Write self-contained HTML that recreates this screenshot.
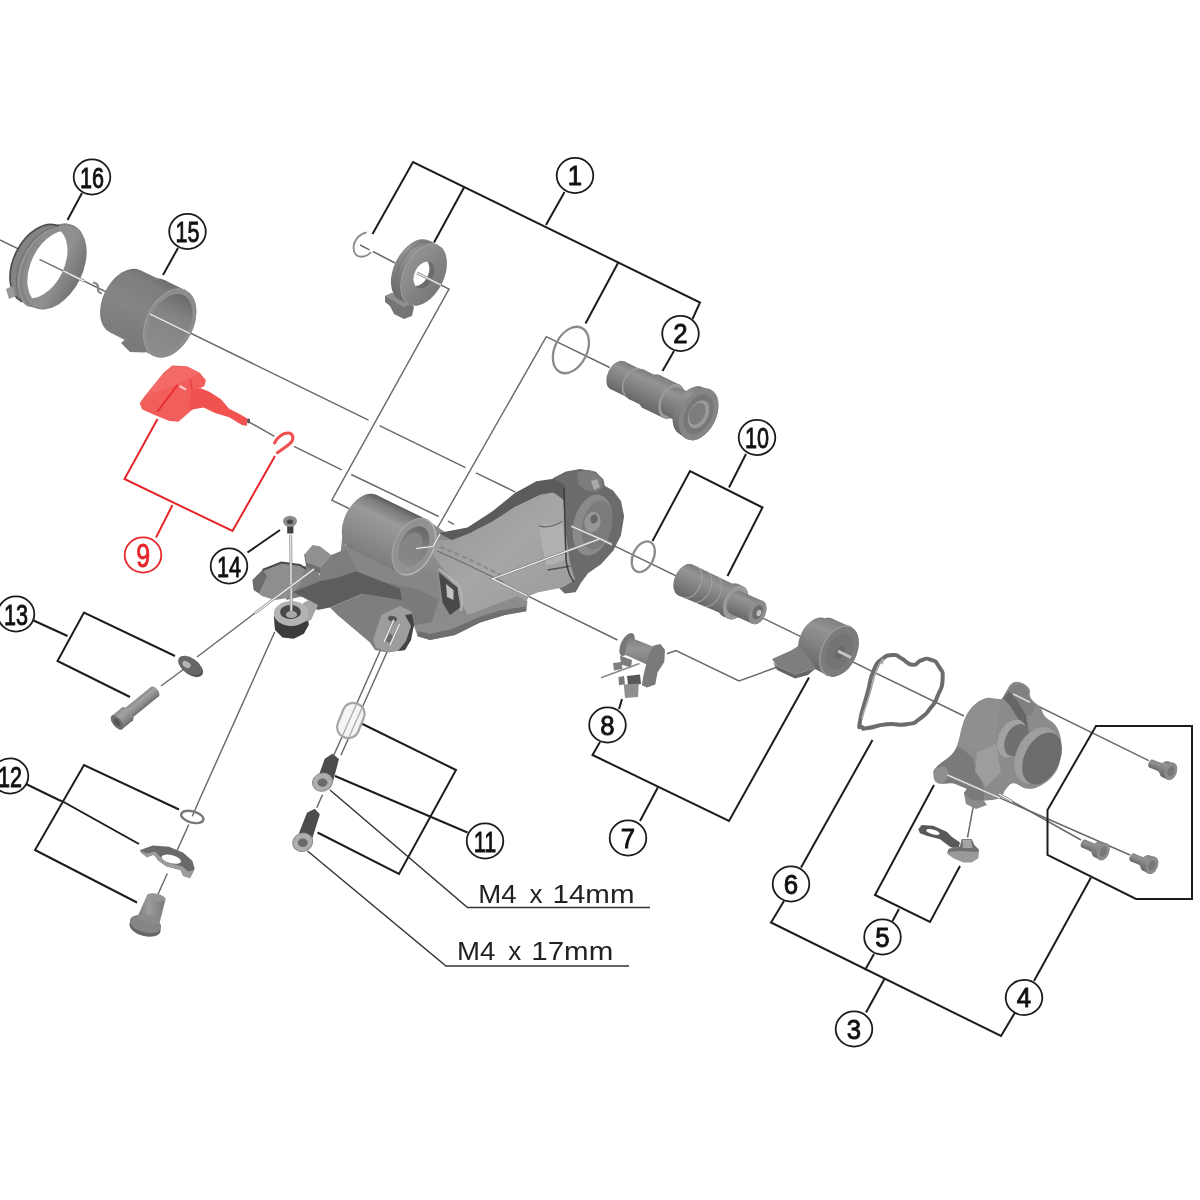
<!DOCTYPE html>
<html lang="en">
<head>
<meta charset="utf-8">
<title>Exploded view</title>
<style>
html,body{margin:0;padding:0;background:#fff;}
body{width:1200px;height:1200px;overflow:hidden;}
svg{display:block;filter:blur(0.55px);}
.k{stroke:#1c1c1c;stroke-width:2;fill:none;stroke-linecap:butt;stroke-linejoin:miter;}
.g{stroke:#696969;stroke-width:1.45;fill:none;}
.r{stroke:#e6262b;stroke-width:2;fill:none;}
.c{fill:#fff;stroke:#1c1c1c;stroke-width:1.8;}
.cr{fill:#fff;stroke:#e6262b;stroke-width:1.8;}
.n{font-family:"Liberation Sans",sans-serif;font-weight:normal;font-size:28px;fill:#111;stroke:#111;stroke-width:.9;text-anchor:middle;}
.n2{font-size:30px;}
.nr{fill:#e6262b;stroke:#e6262b;}
.t{font-family:"Liberation Sans",sans-serif;font-size:26px;fill:#222;}
</style>
</head>
<body>
<svg width="1200" height="1200" viewBox="0 0 1200 1200">
<rect width="1200" height="1200" fill="#fff"/>
<defs>
<linearGradient id="cyl" x1="0" y1="0" x2="0" y2="1"><stop offset="0" stop-color="#7d7d7d"/><stop offset="0.25" stop-color="#949494"/><stop offset="0.6" stop-color="#808080"/><stop offset="1" stop-color="#676767"/></linearGradient>
<linearGradient id="cylr" x1="0" y1="1" x2="0" y2="0"><stop offset="0" stop-color="#8a8a8a"/><stop offset="0.3" stop-color="#a2a2a2"/><stop offset="0.7" stop-color="#8a8a8a"/><stop offset="1" stop-color="#6c6c6c"/></linearGradient>
<linearGradient id="cylh" x1="0" y1="0" x2="1" y2="0"><stop offset="0" stop-color="#7a7a7a"/><stop offset="0.4" stop-color="#9c9c9c"/><stop offset="1" stop-color="#787878"/></linearGradient>
<linearGradient id="cyl15" x1="0" y1="0" x2="0" y2="1"><stop offset="0" stop-color="#6c6c6c"/><stop offset="0.12" stop-color="#7c7c7c"/><stop offset="0.5" stop-color="#858585"/><stop offset="1" stop-color="#787878"/></linearGradient>
<linearGradient id="bore15" x1="0" y1="0" x2="0" y2="1"><stop offset="0" stop-color="#6a6a6a"/><stop offset="0.35" stop-color="#838383"/><stop offset="1" stop-color="#8c8c8c"/></linearGradient>
<linearGradient id="cylb" x1="0" y1="0" x2="0" y2="1"><stop offset="0" stop-color="#5c5c5c"/><stop offset="0.1" stop-color="#7c7c7c"/><stop offset="0.3" stop-color="#9a9a9a"/><stop offset="0.7" stop-color="#8a8a8a"/><stop offset="1" stop-color="#7c7c7c"/></linearGradient>
<linearGradient id="boreb" x1="0" y1="0" x2="0" y2="1"><stop offset="0" stop-color="#686868"/><stop offset="0.5" stop-color="#808080"/><stop offset="1" stop-color="#8a8a8a"/></linearGradient>
<linearGradient id="ringin" x1="0" y1="0" x2="1" y2="0"><stop offset="0" stop-color="#8c8c8c"/><stop offset="0.6" stop-color="#909090"/><stop offset="1" stop-color="#737373"/></linearGradient>
<linearGradient id="wface" x1="0" y1="0" x2="1" y2="0.4"><stop offset="0" stop-color="#969696"/><stop offset="1" stop-color="#7a7a7a"/></linearGradient>
<linearGradient id="spool" x1="0" y1="0" x2="0" y2="1"><stop offset="0" stop-color="#7c7c7c"/><stop offset="0.4" stop-color="#949494"/><stop offset="1" stop-color="#7a7a7a"/></linearGradient>
<linearGradient id="arm" x1="0" y1="0" x2="1" y2="1"><stop offset="0" stop-color="#959595"/><stop offset="0.5" stop-color="#a6a6a6"/><stop offset="1" stop-color="#9a9a9a"/></linearGradient>
</defs>

<!-- ===== GRAY AXIS LINES ===== -->
<g id="axis" class="g">
<!--AXIS-->
<path d="M0,240.0 L368.5,420.2 M379.5,425.6 L465.5,467.6 M476,472.8 L515.5,492.1"/>
<path d="M248.3,421.6 L274.5,436.4"/>
<path d="M294,446.3 L341.8,469.8 M351.2,474.5 L438.7,516.5 M448,521.2 L454,524.3"/>
<path d="M360,245 L369.5,249.8 M373,251.5 L395,263 M417,273 L449,289 L331.8,500.2 L349,508.5"/>
<path d="M609.7,367.5 L546.3,336.6 L434,534"/>
<path d="M600,538.8 L964,716"/>
<path d="M527,595.7 L617.5,640 M667,653.8 L676,650.5 L739,681 L776,667.5"/>
<path d="M1013.3,694 L1148.8,760.6"/>
<path d="M947.5,775 L1130,855"/>
<path d="M999,794 L1081,840"/>
<path d="M974,802.5 L967.5,837.5"/>
<path d="M197,657 L255,613 M161,686 L184,669"/>
<path d="M274.7,632 L199.3,800 L192.3,816.3 M188.8,824.5 L172.5,860.7 M167.3,873.5 L157.3,895.7"/>
<path d="M393.8,620 L333.8,755.2 M399.5,624 L340.9,755.2"/>
<path d="M322.5,794.8 L316.8,807.6"/>
</g>

<!-- ===== PARTS ===== -->
<g id="parts">
<!--PARTS-->
<polygon points="424.0,518.0 445.0,532.0 472.0,532.0 470.0,616.0 430.0,624.0 412.0,626.0 398.0,604.0 420.0,560.0" fill="#8b8b8b" />
<polygon points="553.8,478.8 566.3,472.5 580.0,470.0 595.0,472.5 602.5,480.0 603.8,486.3 612.5,491.3 620.0,501.3 623.1,516.3 620.0,535.0 612.5,550.0 600.0,563.8 587.5,572.5 580.0,582.5 575.0,591.3 565.0,592.5 558.8,586.3 556.0,560.0 553.0,520.0" fill="#6b6b6b" stroke="#6b6b6b" stroke-width="2" stroke-linejoin="round"/>
<ellipse cx="592.5" cy="525.0" rx="19.0" ry="31.0" fill="#8a8a8a" transform="rotate(14 592.5 525.0)" />
<ellipse cx="597.0" cy="525.0" rx="14.5" ry="25.0" fill="#7b7b7b" transform="rotate(14 597.0 525.0)" />
<ellipse cx="592.5" cy="522.0" rx="8.0" ry="10.5" fill="#969696" transform="rotate(14 592.5 522.0)" />
<ellipse cx="594.0" cy="519.0" rx="3.6" ry="4.6" fill="#676767" transform="rotate(14 594.0 519.0)" />
<polygon points="577.0,472.0 590.0,470.0 602.0,478.0 603.0,487.0 596.0,492.0 585.0,490.0 578.0,484.0" fill="#7c7c7c" />
<polygon points="591.0,481.0 597.0,479.0 600.0,487.0 594.0,490.0" fill="#aaaaaa" />
<polygon points="432.5,540.0 452.0,540.0 470.0,533.0 492.0,522.0 515.0,507.0 540.0,495.0 553.8,492.5 563.0,497.0 566.0,535.0 570.0,562.5 575.0,580.0 562.5,587.5 537.5,592.5 529.0,596.0 526.0,602.0 467.5,615.0 460.0,600.0 445.0,572.0 432.0,553.0" fill="url(#arm)" />
<polygon points="438.8,533.0 467.5,527.5 492.5,511.3 515.0,493.0 536.3,481.3 553.8,478.8 565.0,485.0 565.0,501.0 553.8,492.5 540.0,495.0 515.0,507.0 492.0,522.0 470.0,533.0 452.0,540.0" fill="#5b5b5b" />
<polygon points="538.8,526.0 562.5,521.3 566.0,560.0 546.0,566.0" fill="#b1b1b1" />
<path d="M538.8,526 Q550,529 562.5,521.3" fill="none" stroke="#666" stroke-width="1.2"/>
<path d="M547.5,570 L570,566.3" stroke="#555" stroke-width="1.6" fill="none"/>
<path d="M564,488 L566,560 Q568,575 574,582" stroke="#3c3c3c" stroke-width="1.5" fill="none"/>
<path d="M440,547 C455,552 470,560 505,577" stroke="#8c8c8c" stroke-width="2.4" stroke-dasharray="5 3" fill="none"/>
<path d="M437,551 C452,557 468,565 503,582" stroke="#6c6c6c" stroke-width="1.1" fill="none"/>
<polygon points="413.8,625.0 417.5,636.3 430.0,640.0 455.0,635.0 480.0,622.5 505.0,615.0 526.3,611.3 527.5,601.3 517.5,596.3 467.5,615.0 450.0,618.0 430.0,622.0" fill="#8c8c8c" />
<polygon points="417.5,636.3 430.0,640.0 455.0,635.0 480.0,622.5 505.0,615.0 526.3,611.3 526.0,606.5 500.0,610.5 478.0,617.5 452.0,629.0 430.0,634.0 418.0,631.0" fill="#6f6f6f" />
<polygon points="343.0,530.0 345.0,545.0 375.0,557.5 417.5,565.0 436.0,572.5 440.0,600.0 432.0,622.0 414.0,625.0 400.0,606.0 362.0,595.0 356.0,571.0 340.0,558.0" fill="#868686" />
<polygon points="375.0,580.0 420.0,590.0 438.0,600.0 432.0,622.0 414.0,625.0 400.0,606.0 380.0,598.0" fill="#7a7a7a" />
<polygon points="438.8,572.5 457.5,587.5 460.0,607.5 450.0,615.0 442.5,602.5" fill="#484848" />
<polygon points="446.0,584.0 453.5,590.0 453.5,600.0 447.0,597.0" fill="#c2c2c2" />
<path d="M439,569 L458,584.5 Q464,595 461,611" fill="none" stroke="#b4b4b4" stroke-width="2"/>
<g transform="translate(363.5 522.0) rotate(26)"><ellipse cx="0.0" cy="0.0" rx="19.2" ry="30.0" fill="url(#cylb)" /><polygon points="0.0,-30.0 56.0,-30.0 56.0,30.0 0.0,30.0" fill="url(#cylb)" /><ellipse cx="56.0" cy="0.0" rx="19.2" ry="30.0" fill="url(#cylb)" /><ellipse cx="56.0" cy="0.0" rx="19.2" ry="30.0" fill="#929292" /></g>
<g transform="translate(363.5 522) rotate(26)"><ellipse cx="56.0" cy="0.0" rx="13.8" ry="21.5" fill="url(#boreb)" /><ellipse cx="54.0" cy="1.0" rx="9.6" ry="15.0" fill="#858585" /><path d="M56,-30 A19.2,30 0 0 0 56,30" fill="none" stroke="#a8a8a8" stroke-width="1"/><path d="M56,-30 A19.2,30 0 0 1 56,30" fill="none" stroke="#b8b8b8" stroke-width="1.4"/></g>
<polygon points="294.0,566.0 312.0,566.0 324.0,580.0 304.0,596.0 286.0,600.0" fill="#7f7f7f" />
<polygon points="252.5,580.0 262.5,570.0 281.3,562.5 300.0,565.0 305.0,568.8 300.0,585.0 287.5,598.0 275.0,600.0 262.5,596.3 253.8,590.0" fill="#8e8e8e" />
<polygon points="252.5,580.0 262.5,570.0 267.0,576.0 259.0,593.0 253.8,590.0" fill="#6c6c6c" />
<path d="M262.5,570 L281.3,562.5 L300,565 L306,569" fill="none" stroke="#4a4a4a" stroke-width="2"/>
<polygon points="304.0,553.8 306.0,566.0 320.0,574.0 320.0,567.5" fill="#6e6e6e" />
<polygon points="305.0,553.8 312.5,545.0 320.0,546.3 331.3,555.0 320.0,567.5 306.3,562.5" fill="#919191" />
<polygon points="320.0,567.5 331.3,555.0 346.0,549.0 358.0,571.0 337.5,578.0 320.0,582.0" fill="#7d7d7d" />
<polygon points="293.0,592.0 320.0,581.3 337.5,577.5 356.3,571.3 400.0,588.8 402.0,600.0 362.5,593.8 330.0,607.5 317.5,610.0 308.0,600.0" fill="#5d5d5d" />
<polygon points="330.0,607.5 362.5,593.8 400.0,600.0 413.0,612.0 413.8,625.0 410.0,640.0 405.0,650.0 387.5,652.5 375.0,650.0 370.0,642.5 337.5,615.0" fill="#7e7e7e" />
<polygon points="381.3,615.0 400.0,606.0 412.0,612.0 411.0,640.0 402.0,650.0 387.5,652.0 376.0,648.0 373.0,640.0" fill="#9d9d9d" />
<polygon points="405.0,615.0 411.0,626.0 406.0,641.0 398.0,651.0 405.0,650.0 411.0,640.0 414.0,625.0 412.0,614.0" fill="#444" />
<ellipse cx="392.5" cy="618.8" rx="4.6" ry="2.9" fill="#555" transform="rotate(15 392.5 618.8)" />
<ellipse cx="389.0" cy="638.0" rx="3.5" ry="4.5" fill="#6a6a6a" transform="rotate(15 389.0 638.0)" />
<polygon points="273.8,616.0 275.0,630.0 282.5,637.5 293.8,638.8 303.8,633.8 308.8,625.0 308.0,617.0" fill="#3c3c3c" />
<polygon points="303.0,603.0 308.8,600.0 318.0,605.0 311.0,620.0 304.0,622.0" fill="#a6a6a6" />
<ellipse cx="291.3" cy="613.5" rx="17.5" ry="12.5" fill="#b3b3b3" />
<ellipse cx="290.5" cy="612.0" rx="10.5" ry="7.0" fill="#484848" />
<ellipse cx="291.5" cy="614.5" rx="5.6" ry="3.6" fill="#a8a8a8" />
<clipPath id="c16"><ellipse cx="56.3" cy="268" rx="25.6" ry="40" transform="rotate(26 56.3 268)"/></clipPath>
<ellipse cx="40.5" cy="264.0" rx="27.0" ry="42.0" fill="#848484" transform="rotate(26 40.5 264.0)" /><polygon points="55.0,224.8 66.0,223.2 73.7,225.6 33.7,307.6 27.0,306.0 22.1,301.8" fill="#848484" /><ellipse cx="53.7" cy="266.6" rx="29.2" ry="45.6" fill="#848484" transform="rotate(26 53.7 266.6)" />
<g transform="translate(40.5 264) rotate(26)"><path d="M0,-42 A27,42 0 0 0 0,42" fill="none" stroke="#4c4c4c" stroke-width="1.7"/><path d="M5,-42.6 A27.4,42.8 0 0 0 5,42.6" fill="none" stroke="#707070" stroke-width="1"/><path d="M8,-43.4 A28,43.6 0 0 0 8,43.4" fill="none" stroke="#9b9b9b" stroke-width="1.3"/></g>
<ellipse cx="54.3" cy="266.9" rx="28.0" ry="44.2" fill="url(#ringin)" transform="rotate(26 54.3 266.9)" />
<g clip-path="url(#c16)"><ellipse cx="40.0" cy="262.5" rx="24.3" ry="38.0" fill="#fff" transform="rotate(26 40.0 262.5)" /></g>
<polygon points="6.0,289.0 12.0,286.0 16.0,296.0 9.0,299.0" fill="#9a9a9a" />
<path d="M93,282.5 q5.5,0.5 5,6 q-0.5,4 4,5" fill="none" stroke="#858585" stroke-width="2.2"/>
<polygon points="121.0,343.0 128.0,337.0 147.0,346.0 145.0,352.5 130.0,352.0" fill="#7a7a7a" />
<g transform="translate(125.0 301.3) rotate(26)"><ellipse cx="0.0" cy="0.0" rx="22.1" ry="34.5" fill="url(#cyl15)" /><polygon points="0.0,-34.5 26.0,-35.0 26.0,35.0 0.0,34.5" fill="url(#cyl15)" /><ellipse cx="26.0" cy="0.0" rx="22.4" ry="35.0" fill="url(#cyl15)" /><ellipse cx="26.0" cy="0.0" rx="23.4" ry="36.5" fill="url(#cyl15)" /><polygon points="26.0,-36.5 50.0,-36.5 50.0,36.5 26.0,36.5" fill="url(#cyl15)" /><ellipse cx="50.0" cy="0.0" rx="23.4" ry="36.5" fill="url(#cyl15)" /><ellipse cx="50.0" cy="0.0" rx="23.4" ry="36.5" fill="#8d8d8d" /></g>
<g transform="translate(125 301.3) rotate(26)"><ellipse cx="50.0" cy="0.0" rx="19.8" ry="31.0" fill="url(#bore15)" /><path d="M50,-36.5 A23.4,36.5 0 0 0 50,36.5" fill="none" stroke="#9c9c9c" stroke-width="1.2"/><path d="M4,-34.5 A22,34.5 0 0 0 4,34.5" fill="none" stroke="#8d8d8d" stroke-width="0.7" opacity="0.6"/><path d="M8,-34.5 A22,34.5 0 0 0 8,34.5" fill="none" stroke="#8d8d8d" stroke-width="0.7" opacity="0.6"/><path d="M12,-34.5 A22,34.5 0 0 0 12,34.5" fill="none" stroke="#8d8d8d" stroke-width="0.7" opacity="0.6"/><path d="M16,-34.5 A22,34.5 0 0 0 16,34.5" fill="none" stroke="#8d8d8d" stroke-width="0.7" opacity="0.6"/><path d="M20,-34.5 A22,34.5 0 0 0 20,34.5" fill="none" stroke="#8d8d8d" stroke-width="0.7" opacity="0.6"/><path d="M24,-34.5 A22,34.5 0 0 0 24,34.5" fill="none" stroke="#8d8d8d" stroke-width="0.7" opacity="0.6"/></g>
<polygon points="385.0,296.0 392.0,293.0 410.0,303.0 414.0,307.0 412.0,316.0 404.0,319.0 394.0,314.0 390.0,306.0 385.0,302.0" fill="#747474" />
<polygon points="385.0,296.0 392.0,293.0 411.0,303.5 404.0,307.5" fill="#8e8e8e" />
<g transform="translate(414 270.1) rotate(26)"><ellipse cx="0.0" cy="0.0" rx="20.0" ry="33.0" fill="url(#cyl)" /><rect x="0" y="-33" width="11" height="66" fill="url(#cyl)"/><ellipse cx="11.0" cy="0.0" rx="20.0" ry="33.0" fill="url(#wface)" /><path d="M11,-33 A20,33 0 0 0 11,33" fill="none" stroke="#a0a0a0" stroke-width="1"/><path d="M5,-33 A20,33 0 0 0 5,33" fill="none" stroke="#757575" stroke-width="0.9"/><ellipse cx="11.0" cy="0.0" rx="9.4" ry="14.3" fill="#6c6c6c" /><path d="M8.25,-13.67 A9.40,14.30 0 0 0 8.25,13.67 A9.40,14.30 0 0 0 8.25,-13.67 Z" fill="#fff"/></g>
<path d="M366.5,232.5 C358,234 352,243 354,251 C356,259 366,258 371,252" fill="none" stroke="#8a8a8a" stroke-width="1.8"/>
<ellipse cx="570.9" cy="350" rx="16.1" ry="24.6" transform="rotate(26 570.9 350)" fill="none" stroke="#8a8a8a" stroke-width="2.3"/>
<g transform="translate(617.5 375.3) rotate(25.7)"><ellipse cx="0.0" cy="0.0" rx="9.9" ry="15.5" fill="url(#cyl)" /><polygon points="0.0,-15.5 17.0,-15.5 17.0,15.5 0.0,15.5" fill="url(#cyl)" /><ellipse cx="17.0" cy="0.0" rx="9.9" ry="15.5" fill="url(#cyl)" /><ellipse cx="17.0" cy="0.0" rx="9.9" ry="15.5" fill="#9a9a9a" /><ellipse cx="17.0" cy="0.0" rx="8.3" ry="13.0" fill="url(#cyl)" /><polygon points="17.0,-13.0 21.0,-13.0 21.0,13.0 17.0,13.0" fill="url(#cyl)" /><ellipse cx="21.0" cy="0.0" rx="8.3" ry="13.0" fill="url(#cyl)" /><ellipse cx="21.0" cy="0.0" rx="10.6" ry="16.5" fill="url(#cyl)" /><polygon points="21.0,-16.5 38.0,-16.5 38.0,16.5 21.0,16.5" fill="url(#cyl)" /><ellipse cx="38.0" cy="0.0" rx="10.6" ry="16.5" fill="url(#cyl)" /><ellipse cx="38.0" cy="0.0" rx="11.8" ry="18.5" fill="url(#cyl)" /><polygon points="38.0,-18.5 60.0,-18.5 60.0,18.5 38.0,18.5" fill="url(#cyl)" /><ellipse cx="60.0" cy="0.0" rx="11.8" ry="18.5" fill="url(#cyl)" /><ellipse cx="60.0" cy="0.0" rx="11.8" ry="18.5" fill="#9a9a9a" /><ellipse cx="60.0" cy="0.0" rx="9.6" ry="15.0" fill="url(#cyl)" /><polygon points="60.0,-15.0 72.0,-16.0 72.0,16.0 60.0,15.0" fill="url(#cyl)" /><ellipse cx="72.0" cy="0.0" rx="10.2" ry="16.0" fill="url(#cyl)" /><ellipse cx="72.0" cy="0.0" rx="10.2" ry="16.0" fill="url(#cyl)" /><polygon points="72.0,-16.0 82.0,-26.0 82.0,26.0 72.0,16.0" fill="url(#cyl)" /><ellipse cx="82.0" cy="0.0" rx="16.6" ry="26.0" fill="url(#cyl)" /><ellipse cx="82.0" cy="0.0" rx="16.6" ry="26.0" fill="url(#cyl)" /><polygon points="82.0,-26.0 90.0,-27.5 90.0,27.5 82.0,26.0" fill="url(#cyl)" /><ellipse cx="90.0" cy="0.0" rx="17.6" ry="27.5" fill="url(#cyl)" /><ellipse cx="90.0" cy="0.0" rx="17.6" ry="27.5" fill="#858585" /></g>
<g transform="translate(617.5 375.3) rotate(25.7)"><ellipse cx="90.0" cy="0.0" rx="13.4" ry="21.0" fill="#777" /><ellipse cx="90.0" cy="0.0" rx="9.6" ry="15.0" fill="#9a9a9a" /><ellipse cx="88.5" cy="0.0" rx="7.4" ry="11.5" fill="#7d7d7d" /></g>
<ellipse cx="643.3" cy="556.7" rx="10.3" ry="16.2" transform="rotate(25 643.3 556.7)" fill="none" stroke="#8c8c8c" stroke-width="2.3"/>
<g transform="translate(685.5 580.0) rotate(24.2)"><ellipse cx="0.0" cy="0.0" rx="10.9" ry="17.0" fill="url(#cyl)" /><polygon points="0.0,-17.0 49.0,-15.8 49.0,15.8 0.0,17.0" fill="url(#cyl)" /><ellipse cx="49.0" cy="0.0" rx="10.1" ry="15.8" fill="url(#cyl)" /><ellipse cx="49.0" cy="0.0" rx="11.4" ry="17.8" fill="url(#cyl)" /><polygon points="49.0,-17.8 55.0,-17.8 55.0,17.8 49.0,17.8" fill="url(#cyl)" /><ellipse cx="55.0" cy="0.0" rx="11.4" ry="17.8" fill="url(#cyl)" /><ellipse cx="55.0" cy="0.0" rx="11.4" ry="17.8" fill="#9a9a9a" /><ellipse cx="55.0" cy="0.0" rx="8.0" ry="12.5" fill="url(#cyl)" /><polygon points="55.0,-12.5 79.0,-12.5 79.0,12.5 55.0,12.5" fill="url(#cyl)" /><ellipse cx="79.0" cy="0.0" rx="8.0" ry="12.5" fill="url(#cyl)" /><ellipse cx="79.0" cy="0.0" rx="8.0" ry="12.5" fill="#8c8c8c" /><path d="M5.0,-16.8 A10.8,16.8 0 0 1 5.0,16.8" fill="none" stroke="#a2a2a2" stroke-width="1"/><path d="M16.0,-16.5 A10.6,16.5 0 0 1 16.0,16.5" fill="none" stroke="#a2a2a2" stroke-width="1"/><path d="M27.0,-16.2 A10.4,16.2 0 0 1 27.0,16.2" fill="none" stroke="#a2a2a2" stroke-width="1"/></g>
<g transform="translate(685.5 580) rotate(24.2)"><ellipse cx="79.0" cy="0.0" rx="4.8" ry="7.5" fill="#6c6c6c" /><ellipse cx="80.5" cy="0.0" rx="2.2" ry="3.2" fill="#c0c0c0" /></g>
<g transform="translate(815.0 639.5) rotate(26)"><ellipse cx="0.0" cy="0.0" rx="15.0" ry="23.5" fill="url(#cyl)" /><polygon points="0.0,-23.5 7.0,-26.3 7.0,26.3 0.0,23.5" fill="url(#cyl)" /><ellipse cx="7.0" cy="0.0" rx="16.8" ry="26.3" fill="url(#cyl)" /><ellipse cx="7.0" cy="0.0" rx="16.8" ry="26.3" fill="url(#cyl)" /><polygon points="7.0,-26.3 27.0,-27.0 27.0,27.0 7.0,26.3" fill="url(#cyl)" /><ellipse cx="27.0" cy="0.0" rx="17.3" ry="27.0" fill="url(#cyl)" /><ellipse cx="27.0" cy="0.0" rx="17.3" ry="27.0" fill="#7b7b7b" /></g>
<g transform="translate(815 639.5) rotate(26)"><path d="M27,-27 A17.3,27 0 0 0 27,27" fill="none" stroke="#9a9a9a" stroke-width="1.4"/><ellipse cx="27.0" cy="0.0" rx="12.2" ry="19.0" fill="#747474" /><ellipse cx="28.0" cy="1.0" rx="4.5" ry="7.0" fill="#6a6a6a" /></g>
<polygon points="772.0,659.0 790.0,651.0 800.0,645.0 816.0,668.0 795.0,674.5 777.0,666.0" fill="#7e7e7e" />
<polygon points="773.0,662.0 777.0,666.0 795.0,674.5 816.0,668.0 808.0,675.0 795.0,678.5 777.0,670.0" fill="#646464" />
<path d="M838,651 L851,657.5" stroke="#c6c6c6" stroke-width="3" fill="none"/>
<ellipse cx="627.0" cy="644.5" rx="6.0" ry="12.5" fill="#777" transform="rotate(26 627.0 644.5)" />
<polygon points="629.0,637.0 657.0,648.0 649.0,665.5 624.5,654.5" fill="url(#spool)" />
<polygon points="653.8,645.5 660.5,644.0 665.0,650.0 664.3,662.0 657.5,672.5 655.3,684.5 647.0,687.5 641.8,685.3 644.0,672.5 647.0,662.0 650.0,651.5" fill="#7a7a7a" />
<polygon points="620.0,655.5 632.0,660.0 631.0,667.5 621.0,664.5" fill="#7d7d7d" />
<polygon points="613.0,663.0 621.5,662.0 622.5,669.0 614.0,670.5" fill="#808080" />
<polygon points="618.5,677.0 624.0,676.0 625.0,684.5 619.0,685.0" fill="#7a7a7a" />
<polygon points="627.0,676.0 640.0,674.5 641.0,684.0 628.0,685.0" fill="#575757" />
<polygon points="623.8,684.5 638.8,683.5 638.0,697.0 625.0,698.0" fill="#8e8e8e" />
<path d="M601,677.8 L639.5,663.5" stroke="#8a8a8a" stroke-width="1.6" fill="none"/>
<path d="M861.9,727.1 C859.2,724.7 858.3,732.0 860.1,720.7 C861.9,709.4 862.8,710.0 867.4,693.2 C872.0,676.4 868.9,681.5 873.8,670.2 C878.7,658.9 875.7,664.2 882.1,659.2 C888.5,654.2 886.7,655.4 893.1,655.1 C899.5,654.8 894.9,655.1 901.3,658.3 C907.7,661.5 905.6,664.1 912.3,664.7 C919.0,665.3 915.4,661.9 921.5,660.2 C927.6,658.5 924.9,657.6 930.7,659.7 C936.5,661.8 934.9,660.0 938.9,666.6 C942.9,673.2 942.9,669.9 942.6,679.4 C942.3,688.9 942.0,685.5 938.0,695.0 C934.0,704.5 936.8,699.9 930.7,707.8 C924.6,715.7 927.7,713.3 919.7,718.8 C911.7,724.3 917.8,722.5 906.8,724.3 C895.8,726.1 899.5,723.1 886.7,724.3 C873.9,725.5 876.6,727.1 868.3,728.0 C860.0,728.9 864.6,729.5 861.9,727.1 Z" fill="none" stroke="#6c6c6c" stroke-width="4" stroke-linejoin="round"/>
<path d="M863.0,716.0 C859.7,723.9 866.3,705.2 869.8,693.5 C873.3,681.8 872.7,679.9 876.0,672.0 C879.3,664.1 885.5,652.3 882.0,664.0" fill="none" stroke="#a4a4a4" stroke-width="1.6"/>
<path d="M933.3,774.0 C932.8,770.5 933.8,769.7 937.3,766.0 C940.8,762.3 946.7,759.6 950.7,755.3 C954.7,751.0 954.6,751.6 957.3,744.7 C960.0,737.8 960.8,728.4 964.0,720.7 C967.2,713.0 968.8,710.5 973.3,706.0 C977.8,701.5 981.4,699.3 986.7,698.0 C992.0,696.7 996.3,700.4 1000.0,699.3 C1003.7,698.2 1002.9,695.9 1005.3,692.7 C1007.7,689.5 1008.8,685.3 1012.0,683.3 C1015.2,681.3 1017.8,681.6 1021.3,682.7 C1024.8,683.8 1027.4,685.6 1029.3,688.7 C1031.2,691.8 1028.6,694.3 1030.7,698.0 C1032.8,701.7 1037.1,703.6 1040.0,707.3 C1042.9,711.0 1042.1,713.0 1045.3,716.7 C1048.5,720.4 1052.8,720.9 1056.0,726.0 C1059.2,731.1 1060.5,735.1 1061.3,742.0 C1062.1,748.9 1061.6,754.0 1060.0,760.7 C1058.4,767.4 1057.3,770.2 1053.3,775.3 C1049.3,780.4 1045.3,783.3 1040.0,786.0 C1034.7,788.7 1032.0,789.2 1026.7,788.7 C1021.4,788.2 1017.6,783.0 1013.3,783.3 C1009.0,783.6 1008.0,787.1 1005.3,790.0 C1002.6,792.9 1004.3,795.9 1000.0,798.0 C995.7,800.1 989.3,800.2 984.0,800.7 C978.7,801.2 977.3,802.0 973.3,800.7 C969.3,799.4 965.3,796.4 964.0,794.0 C962.7,791.6 968.8,790.8 966.7,788.7 C964.6,786.6 958.6,784.4 953.3,783.3 C948.0,782.2 944.0,785.2 940.0,783.3 C936.0,781.4 933.8,777.5 933.3,774.0 Z" fill="#8b8b8b"/>
<polygon points="934.0,774.0 938.0,766.0 951.0,756.0 958.0,746.0 972.0,757.0 978.0,772.0 984.0,789.0 984.0,800.0 973.3,800.7 964.0,794.0 966.7,788.7 953.3,783.3 940.0,783.3" fill="#7a7a7a" />
<polygon points="977.0,752.0 996.0,744.0 1001.0,772.0 986.0,787.0 975.0,771.0" fill="#9d9d9d" />
<polygon points="964.0,721.0 973.0,706.0 987.0,698.0 1000.0,699.0 996.0,744.0 977.0,752.0 958.0,746.0" fill="#8f8f8f" />
<polygon points="1003.0,698.0 1009.0,691.0 1017.0,700.0 1026.0,715.0 1029.0,736.0 1024.0,742.0 1020.0,722.0 1011.0,707.0" fill="#666" />
<polygon points="1009.0,691.0 1013.0,685.0 1021.0,684.0 1028.0,689.0 1029.0,698.0 1036.0,706.0 1030.0,716.0 1026.0,715.0 1017.0,700.0" fill="#808080" />
<ellipse cx="1012.0" cy="738.5" rx="13.5" ry="20.0" fill="#a2a2a2" transform="rotate(26 1012.0 738.5)" />
<ellipse cx="1016.5" cy="740.0" rx="11.0" ry="17.0" fill="#707070" transform="rotate(26 1016.5 740.0)" />
<ellipse cx="1036.5" cy="755.5" rx="20.0" ry="30.0" fill="#9e9e9e" transform="rotate(26 1036.5 755.5)" />
<ellipse cx="1042.0" cy="758.5" rx="17.5" ry="27.5" fill="#6c6c6c" transform="rotate(26 1042.0 758.5)" />
<polygon points="964.0,794.0 973.3,800.7 984.0,800.7 987.0,805.0 976.0,809.0 966.0,804.0" fill="#8a8a8a" />
<ellipse cx="941.0" cy="775.0" rx="7.0" ry="9.0" fill="#8f8f8f" transform="rotate(26 941.0 775.0)" />
<polygon points="918.3,829.2 921.7,825.0 933.3,825.8 946.7,831.7 951.7,836.7 960.0,842.5 958.3,850.0 950.0,846.7 940.0,839.2 926.7,835.8 920.0,833.3" fill="#595959" />
<ellipse cx="933.0" cy="832.0" rx="7.0" ry="2.4" fill="#fff" transform="rotate(15 933.0 832.0)" />
<polygon points="946.7,853.3 949.2,848.3 960.0,846.7 961.7,839.2 971.7,839.2 974.2,845.0 979.2,850.0 978.3,858.3 971.7,862.5 963.3,862.5 953.3,858.3" fill="#9a9a9a" />
<polygon points="948.0,849.5 960.0,846.7 961.7,839.2 971.7,839.2 974.2,845.0 979.0,850.0 977.0,852.0 960.0,851.0 948.0,852.0" fill="#707070" />
<polygon points="962.5,840.0 971.0,840.0 972.5,848.0 963.0,848.0" fill="#a5a5a5" />
<g transform="translate(1151.3 763.8) rotate(21)"><ellipse cx="0.0" cy="0.0" rx="2.8" ry="4.3" fill="url(#cyl)" /><polygon points="0.0,-4.3 9.0,-4.3 9.0,4.3 0.0,4.3" fill="url(#cyl)" /><ellipse cx="9.0" cy="0.0" rx="2.8" ry="4.3" fill="url(#cyl)" /><ellipse cx="9.0" cy="0.0" rx="2.8" ry="4.3" fill="url(#cyl)" /><polygon points="9.0,-4.3 15.0,-8.3 15.0,8.3 9.0,4.3" fill="url(#cyl)" /><ellipse cx="15.0" cy="0.0" rx="5.3" ry="8.3" fill="url(#cyl)" /><ellipse cx="15.0" cy="0.0" rx="5.3" ry="8.3" fill="url(#cyl)" /><polygon points="15.0,-8.3 21.0,-9.0 21.0,9.0 15.0,8.3" fill="url(#cyl)" /><ellipse cx="21.0" cy="0.0" rx="5.8" ry="9.0" fill="url(#cyl)" /><ellipse cx="21.0" cy="0.0" rx="5.8" ry="9.0" fill="#8c8c8c" /></g>
<g transform="translate(1151.3 763.8) rotate(21)"><ellipse cx="21.0" cy="0.0" rx="3.4" ry="5.3" fill="#787878" /></g>
<g transform="translate(1083.8 843.8) rotate(22)"><ellipse cx="0.0" cy="0.0" rx="2.8" ry="4.3" fill="url(#cyl)" /><polygon points="0.0,-4.3 9.0,-4.3 9.0,4.3 0.0,4.3" fill="url(#cyl)" /><ellipse cx="9.0" cy="0.0" rx="2.8" ry="4.3" fill="url(#cyl)" /><ellipse cx="9.0" cy="0.0" rx="2.8" ry="4.3" fill="url(#cyl)" /><polygon points="9.0,-4.3 15.0,-8.3 15.0,8.3 9.0,4.3" fill="url(#cyl)" /><ellipse cx="15.0" cy="0.0" rx="5.3" ry="8.3" fill="url(#cyl)" /><ellipse cx="15.0" cy="0.0" rx="5.3" ry="8.3" fill="url(#cyl)" /><polygon points="15.0,-8.3 21.0,-9.0 21.0,9.0 15.0,8.3" fill="url(#cyl)" /><ellipse cx="21.0" cy="0.0" rx="5.8" ry="9.0" fill="url(#cyl)" /><ellipse cx="21.0" cy="0.0" rx="5.8" ry="9.0" fill="#8c8c8c" /></g>
<g transform="translate(1083.8 843.8) rotate(22)"><ellipse cx="21.0" cy="0.0" rx="3.4" ry="5.3" fill="#787878" /></g>
<g transform="translate(1132.5 857.5) rotate(22)"><ellipse cx="0.0" cy="0.0" rx="2.8" ry="4.3" fill="url(#cyl)" /><polygon points="0.0,-4.3 9.0,-4.3 9.0,4.3 0.0,4.3" fill="url(#cyl)" /><ellipse cx="9.0" cy="0.0" rx="2.8" ry="4.3" fill="url(#cyl)" /><ellipse cx="9.0" cy="0.0" rx="2.8" ry="4.3" fill="url(#cyl)" /><polygon points="9.0,-4.3 15.0,-8.3 15.0,8.3 9.0,4.3" fill="url(#cyl)" /><ellipse cx="15.0" cy="0.0" rx="5.3" ry="8.3" fill="url(#cyl)" /><ellipse cx="15.0" cy="0.0" rx="5.3" ry="8.3" fill="url(#cyl)" /><polygon points="15.0,-8.3 21.0,-9.0 21.0,9.0 15.0,8.3" fill="url(#cyl)" /><ellipse cx="21.0" cy="0.0" rx="5.8" ry="9.0" fill="url(#cyl)" /><ellipse cx="21.0" cy="0.0" rx="5.8" ry="9.0" fill="#8c8c8c" /></g>
<g transform="translate(1132.5 857.5) rotate(22)"><ellipse cx="21.0" cy="0.0" rx="3.4" ry="5.3" fill="#787878" /></g>
<g transform="translate(155.0 691.5) rotate(140.8)"><ellipse cx="0.0" cy="0.0" rx="3.0" ry="6.0" fill="url(#cylr)" /><polygon points="0.0,-6.0 34.0,-6.0 34.0,6.0 0.0,6.0" fill="url(#cylr)" /><ellipse cx="34.0" cy="0.0" rx="3.0" ry="6.0" fill="url(#cylr)" /><ellipse cx="34.0" cy="0.0" rx="3.0" ry="6.0" fill="url(#cylr)" /><polygon points="34.0,-6.0 36.0,-8.5 36.0,8.5 34.0,6.0" fill="url(#cylr)" /><ellipse cx="36.0" cy="0.0" rx="4.2" ry="8.5" fill="url(#cylr)" /><ellipse cx="36.0" cy="0.0" rx="4.2" ry="8.5" fill="url(#cylr)" /><polygon points="36.0,-8.5 49.0,-8.5 49.0,8.5 36.0,8.5" fill="url(#cylr)" /><ellipse cx="49.0" cy="0.0" rx="4.2" ry="8.5" fill="url(#cylr)" /><ellipse cx="49.0" cy="0.0" rx="4.2" ry="8.5" fill="#6e6e6e" /></g>
<g transform="translate(155 691.5) rotate(140.8)"><ellipse cx="49.0" cy="0.0" rx="2.4" ry="4.4" fill="#555" /></g>
<ellipse cx="191.2" cy="667.3" rx="13.3" ry="7.6" fill="#4f4f4f" transform="rotate(34 191.2 667.3)" />
<ellipse cx="190.0" cy="665.5" rx="13.3" ry="7.6" fill="#676767" transform="rotate(34 190.0 665.5)" />
<ellipse cx="186.5" cy="664.5" rx="4.6" ry="2.9" fill="#b4b4b4" transform="rotate(34 186.5 664.5)" />
<ellipse cx="192.3" cy="816.9" rx="11.4" ry="5.6" transform="rotate(15 192.3 816.9)" fill="none" stroke="#7a7a7a" stroke-width="2.4"/>
<polygon points="139.8,850.2 152.7,845.5 169.0,846.7 183.0,852.5 192.3,860.7 194.7,868.8 190.0,878.2 183.0,875.8 180.7,870.0 166.7,866.5 158.5,860.7 153.8,854.8 146.8,857.2 141.0,852.5" fill="#6a6a6a" />
<polygon points="139.8,850.2 146.8,857.2 153.8,854.8 158.5,860.7 166.7,866.5 180.7,870.0 183.0,875.8 190.0,878.2 194.0,870.0 188.0,871.5 182.5,866.5 168.0,862.5 160.5,857.0 155.0,851.5 147.0,853.5" fill="#9c9c9c" />
<ellipse cx="171.3" cy="859.2" rx="10.0" ry="4.0" fill="#fff" transform="rotate(15 171.3 859.2)" />
<ellipse cx="145.0" cy="927.5" rx="16.0" ry="8.5" fill="#666" transform="rotate(15 145.0 927.5)" />
<ellipse cx="145.5" cy="924.0" rx="16.0" ry="8.5" fill="#858585" transform="rotate(15 145.5 924.0)" />
<polygon points="146.8,895.7 165.5,899.2 159.7,922.5 137.5,916.7" fill="url(#cylh)" />
<ellipse cx="148.5" cy="919.3" rx="11.2" ry="4.2" fill="#8a8a8a" transform="rotate(15 148.5 919.3)" />
<ellipse cx="156.2" cy="897.4" rx="9.6" ry="3.7" fill="#959595" transform="rotate(11 156.2 897.4)" />
<rect x="-11" y="-18" width="22" height="36" rx="10.5" transform="translate(350.8 720.5) rotate(22)" fill="#ececec" fill-opacity="0.55" stroke="#a6a6a6" stroke-width="2.3"/>
<polygon points="325.3,759.4 332.4,754.5 338.1,759.4 332.4,780.7 319.7,775.0" fill="#4c4c4c" stroke="#4c4c4c" stroke-width="1.5" stroke-linejoin="round"/>
<ellipse cx="322.5" cy="782.1" rx="10.2" ry="9.0" fill="#aeaeae" transform="rotate(-20 322.5 782.1)" stroke="#8a8a8a" stroke-width="1"/>
<ellipse cx="322.5" cy="782.6" rx="5.0" ry="4.2" fill="#6a6a6a" />
<polygon points="307.6,813.2 314.7,809.7 319.0,814.6 311.9,837.3 299.8,833.1" fill="#4c4c4c" stroke="#4c4c4c" stroke-width="1.5" stroke-linejoin="round"/>
<ellipse cx="302.7" cy="842.3" rx="10.2" ry="9.0" fill="#aeaeae" transform="rotate(-20 302.7 842.3)" stroke="#8a8a8a" stroke-width="1"/>
<ellipse cx="302.7" cy="842.8" rx="5.0" ry="4.2" fill="#6a6a6a" />
<rect x="287.2" y="524.5" width="6.2" height="9" fill="#3f3f3f"/>
<ellipse cx="290.0" cy="521.3" rx="7.0" ry="5.6" fill="#8c8c8c" />
<ellipse cx="290.0" cy="521.8" rx="3.2" ry="2.3" fill="#444" />
<polygon points="140.6,403.2 145.6,396.1 164.0,373.4 172.5,366.3 186.7,367.0 199.4,373.4 205.1,380.5 203.7,385.5 198.0,388.3 192.3,408.8 178.2,420.9 169.7,420.2 155.5,414.5 142.7,408.8" fill="#f25e5c" stroke="#f25e5c" stroke-width="1.5" stroke-linejoin="round"/>
<polygon points="200.8,388.3 209.3,391.8 220.7,398.9 229.2,408.8 240.5,414.5 247.6,418.7 246.9,425.8 241.9,425.1 229.2,417.3 215.0,413.1 203.7,407.4 189.0,410.0 191.0,391.0" fill="#f0524f" />
<polygon points="145.6,396.1 164.0,373.4 172.5,366.3 186.7,367.0 199.4,373.4 190.0,378.0 178.0,384.0" fill="#f46a68" />
<path d="M177.5,385 L157.5,411.5" stroke="#e62c2c" stroke-width="2" fill="none"/>
<path d="M179.5,386 L186,389.5" stroke="#fbd0cf" stroke-width="2" fill="none"/>
<path d="M190.5,380 L192,390" stroke="#e84040" stroke-width="1.5" fill="none"/>
<ellipse cx="248.6" cy="421.0" rx="1.6" ry="2.4" fill="#555" />
<path d="M274.5,443 C278,436 284,432.5 289,433 C294,434 294,440 290,443.5 C286,447 281,450 277.3,452.7" fill="none" stroke="#ef504e" stroke-width="3" stroke-linecap="round"/>
<path d="M571.3,526.3 L600,538.8 L492.5,578.8 L527,595.7" fill="none" stroke="#8c8c8c" stroke-width="2.8"/><path d="M571.3,526.3 L600,538.8 L492.5,578.8 L527,595.7" fill="none" stroke="#f2f2f2" stroke-width="1.2"/>
<path d="M600,538.8 L612,544.6" fill="none" stroke="#8c8c8c" stroke-width="2.8"/><path d="M600,538.8 L612,544.6" fill="none" stroke="#f2f2f2" stroke-width="1.2"/>
<path d="M290.7,534.7 L291.3,611" fill="none" stroke="#8c8c8c" stroke-width="2.8"/><path d="M290.7,534.7 L291.3,611" fill="none" stroke="#f2f2f2" stroke-width="1.2"/>
<path d="M255,613 L314,569" fill="none" stroke="#8c8c8c" stroke-width="2.8"/><path d="M255,613 L314,569" fill="none" stroke="#f2f2f2" stroke-width="1.2"/>
<path d="M416,548.5 L433,546.5 L440,534" fill="none" stroke="#8c8c8c" stroke-width="2.8"/><path d="M416,548.5 L433,546.5 L440,534" fill="none" stroke="#f2f2f2" stroke-width="1.2"/>
<path d="M393.8,620 L384,642 M399.5,624 L390,645.5" fill="none" stroke="#8c8c8c" stroke-width="2.8"/><path d="M393.8,620 L384,642 M399.5,624 L390,645.5" fill="none" stroke="#f2f2f2" stroke-width="1.2"/>
<path d="M150,314 L190,333.5" fill="none" stroke="#8c8c8c" stroke-width="2.8"/><path d="M150,314 L190,333.5" fill="none" stroke="#f2f2f2" stroke-width="1.2"/>
<path d="M39.5,259.3 L63,270.8" fill="none" stroke="#6e6e6e" stroke-width="1.3"/>
<path d="M63,270.8 L84,281.1" fill="none" stroke="#8c8c8c" stroke-width="2.8"/><path d="M63,270.8 L84,281.1" fill="none" stroke="#f2f2f2" stroke-width="1.2"/>
<path d="M417,273 L441,285" fill="none" stroke="#8c8c8c" stroke-width="2.8"/><path d="M417,273 L441,285" fill="none" stroke="#f2f2f2" stroke-width="1.2"/>
<path d="M947.5,775 L1000,798 M999,794 L1012,801.5 M1013.3,694 L1030,702.3" fill="none" stroke="#8c8c8c" stroke-width="2.8"/><path d="M947.5,775 L1000,798 M999,794 L1012,801.5 M1013.3,694 L1030,702.3" fill="none" stroke="#f2f2f2" stroke-width="1.2"/>
</g>

<!-- ===== BLACK LEADERS ===== -->
<g id="leaders" class="k">
<path d="M372.5,234 L413,162 L700,302.5 L692.5,319"/>
<path d="M464,187.5 L434,242.5"/>
<path d="M618,263 L585.5,323.5"/>
<path d="M564.5,192 L546,225"/>
<path d="M674,351 L662.5,371"/>
<path d="M82,193 L67.5,220"/>
<path d="M178,248 L163,275"/>
<path d="M746,454 L729,487.5"/>
<path d="M652.5,541 L690,471 L762.5,507.5 L727.5,576"/>
<path d="M247.5,552.5 L280,530"/>
<path d="M32.5,620 L67.5,636"/>
<path d="M175,656 L84,612.5 L57.5,661 L130,697"/>
<path d="M26,784 L61,801"/>
<path d="M179,809.5 L84,765 L35,850 L137,902.5"/>
<path d="M61,800.5 L139,844"/>
<path d="M362.5,724 L456,770 L399,874 L317.5,832.5"/>
<path d="M335,776 L467.5,832.5"/>
<path d="M619,709 L622,699"/>
<path d="M600,742 L592.5,755 L729,821 L809,677.5"/>
<path d="M657.8,787.5 L640,821"/>
<path d="M872.5,740 L801,867.5"/>
<path d="M784,901 L771,922.5 L1001,1036 L1015,1012.5"/>
<path d="M1034,981 L1091,877.5"/>
<path d="M892.5,921 L899,909"/>
<path d="M934,785 L875,895 L930,922 L960,866"/>
<path d="M874,954 L865,970"/>
<path d="M884.7,978.5 L866,1012.5"/>
<path d="M1096,726 L1192,726 L1192,899 L1136,899 L1047.5,855 L1047.5,810 Z"/>
</g>
<g id="redleaders" class="r">
<path d="M157.5,419 L124.5,479 L232.5,531 L275,456"/>
<path d="M172.5,505 L156,537.5"/>
</g>

<!-- ===== CALLOUT CIRCLES ===== -->
<g id="callouts">
<ellipse class="c" cx="92" cy="177" rx="18.3" ry="17.6"/><text class="n n2" x="92" y="188" transform="translate(92 0) scale(.72 1) translate(-92 0)">16</text>
<ellipse class="c" cx="187.5" cy="231.5" rx="18.3" ry="17.6"/><text class="n n2" x="187.5" y="242.5" transform="translate(187.5 0) scale(.72 1) translate(-187.5 0)">15</text>
<ellipse class="c" cx="575" cy="175.5" rx="18.3" ry="17.6"/><text class="n" x="575" y="185.5" transform="translate(575 0) scale(.92 1) translate(-575 0)">1</text>
<ellipse class="c" cx="680.5" cy="333.5" rx="18.3" ry="17.6"/><text class="n" x="680.5" y="343.5" transform="translate(680.5 0) scale(.92 1) translate(-680.5 0)">2</text>
<ellipse class="c" cx="757" cy="437.5" rx="18.3" ry="17.6"/><text class="n n2" x="757" y="448.5" transform="translate(757 0) scale(.72 1) translate(-757 0)">10</text>
<ellipse class="cr" cx="143" cy="555" rx="18.3" ry="17.6"/><text class="n nr" x="143.3" y="566.8" style="font-size:33px" transform="translate(143.3 0) scale(.76 1) translate(-143.3 0)">9</text>
<ellipse class="c" cx="229" cy="566" rx="18.3" ry="17.6"/><text class="n n2" x="229" y="577" transform="translate(229 0) scale(.72 1) translate(-229 0)">14</text>
<ellipse class="c" cx="16" cy="614" rx="18.3" ry="17.6"/><text class="n n2" x="16" y="625" transform="translate(16 0) scale(.72 1) translate(-16 0)">13</text>
<ellipse class="c" cx="10" cy="776" rx="18.3" ry="17.6"/><text class="n n2" x="10" y="787" transform="translate(10 0) scale(.72 1) translate(-10 0)">12</text>
<ellipse class="c" cx="485" cy="841" rx="18.3" ry="17.6"/><text class="n n2" x="485" y="852" transform="translate(485 0) scale(.72 1) translate(-485 0)">11</text>
<ellipse class="c" cx="607.5" cy="725" rx="18.3" ry="17.6"/><text class="n" x="607.5" y="735" transform="translate(607.5 0) scale(.92 1) translate(-607.5 0)">8</text>
<ellipse class="c" cx="628" cy="838" rx="18.3" ry="17.6"/><text class="n" x="628" y="848" transform="translate(628 0) scale(.92 1) translate(-628 0)">7</text>
<ellipse class="c" cx="791" cy="884" rx="18.3" ry="17.6"/><text class="n" x="791" y="894" transform="translate(791 0) scale(.92 1) translate(-791 0)">6</text>
<ellipse class="c" cx="882.5" cy="937" rx="18.3" ry="17.6"/><text class="n" x="882.5" y="947" transform="translate(882.5 0) scale(.92 1) translate(-882.5 0)">5</text>
<ellipse class="c" cx="1024" cy="997.5" rx="18.3" ry="17.6"/><text class="n" x="1024" y="1007.5" transform="translate(1024 0) scale(.92 1) translate(-1024 0)">4</text>
<ellipse class="c" cx="854" cy="1029" rx="18.3" ry="17.6"/><text class="n" x="854" y="1039" transform="translate(854 0) scale(.92 1) translate(-854 0)">3</text>
</g>

<!-- ===== SIZE LABELS ===== -->
<g id="labels">
<path d="M330,790 L467.5,907.5 L650,907.5" fill="none" stroke="#333" stroke-width="1.4"/>
<path d="M307.5,851 L446,966 L629,966" fill="none" stroke="#333" stroke-width="1.4"/>
<text class="t" y="902.5"><tspan x="478.3" textLength="38.3" lengthAdjust="spacingAndGlyphs">M4</tspan> <tspan x="529.5">x</tspan> <tspan x="552.5" textLength="82" lengthAdjust="spacingAndGlyphs">14mm</tspan></text>
<text class="t" y="960"><tspan x="457" textLength="38.3" lengthAdjust="spacingAndGlyphs">M4</tspan> <tspan x="508.3">x</tspan> <tspan x="531.3" textLength="82" lengthAdjust="spacingAndGlyphs">17mm</tspan></text>
</g>
</svg>
</body>
</html>
